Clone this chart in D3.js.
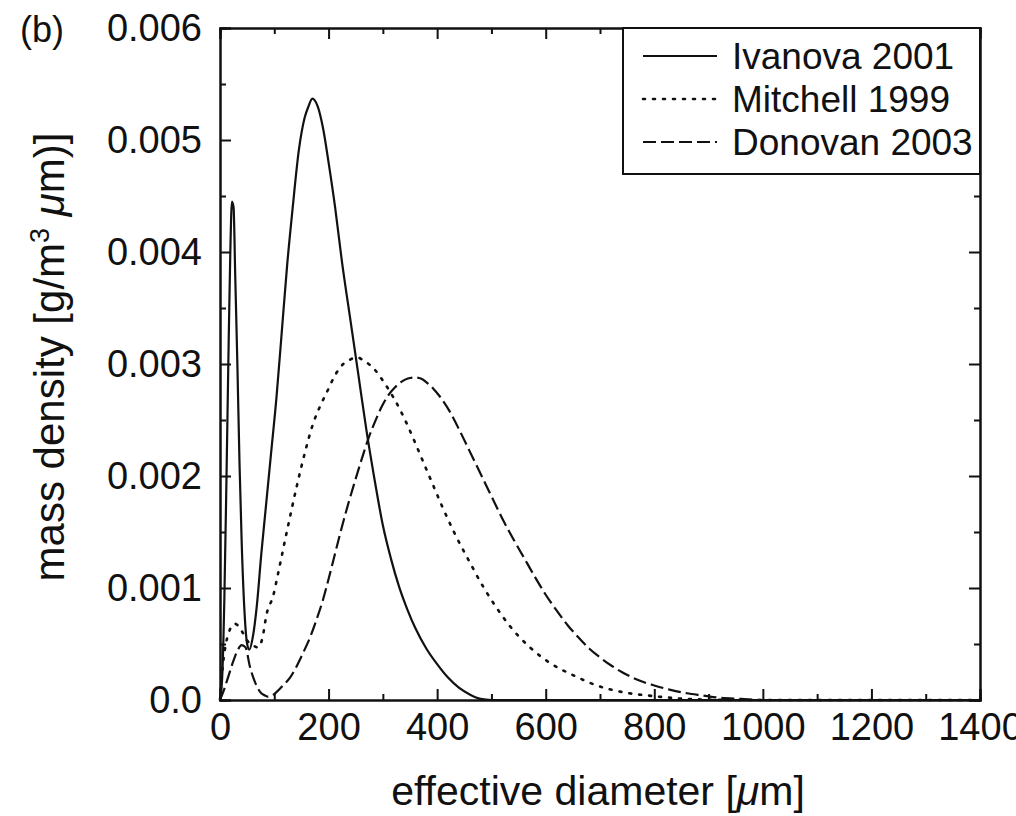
<!DOCTYPE html>
<html>
<head>
<style>
    body { margin: 0; background: #fff; }
    svg { font-family: 'Liberation Sans', Arial, sans-serif; }
    .axis text { font-size: 38px; fill: #111; }
    .axis path, .axis line { stroke: #111; stroke-width: 2; }
</style>
</head>
<body>
<div id="chart"></div>
<script src="https://d3js.org/d3.v7.min.js"></script>
<script>
    // effective diameter [um] / mass density
    const ivanovaX = [0, 4, 8, 12, 16, 19, 22, 25, 28, 32, 36, 40, 45, 50, 54, 60, 68, 76, 84, 94, 104, 114, 124, 134, 145, 156, 163, 170, 180, 190, 200, 212, 225, 240, 255, 270, 285, 300, 315, 330, 345, 360, 380, 400, 420, 440, 460, 480, 500, 1400];
    const ivanovaY = [0, 0.0002, 0.0009, 0.002, 0.0032, 0.004, 0.00445, 0.0044, 0.0038, 0.003, 0.0021, 0.0014, 0.0008, 0.0005, 0.00045, 0.00055, 0.00085, 0.0013, 0.0017, 0.0022, 0.0027, 0.0033, 0.0039, 0.0044, 0.0049, 0.0052, 0.0053, 0.00537, 0.0053, 0.0051, 0.0048, 0.0044, 0.0039, 0.0034, 0.0029, 0.0024, 0.00196, 0.00156, 0.00126, 0.00101, 0.00081, 0.00064, 0.00046, 0.00032, 0.0002, 0.00011, 0.00005, 0.00001, 0, 0];

    const mitchellX = [0, 5, 10, 16, 22, 28, 34, 42, 50, 60, 70, 78, 86, 98, 107, 123, 141, 157, 171, 185, 197, 212, 227, 240, 252, 265, 285, 303, 322, 338, 353, 367, 381, 395, 410, 430, 460, 485, 510, 534, 571, 608, 651, 694, 742, 798, 860, 950, 1400];
    const mitchellY = [0, 0.0003, 0.00048, 0.0006, 0.00066, 0.00068, 0.00066, 0.0006, 0.00053, 0.00049, 0.00047, 0.00055, 0.00077, 0.00093, 0.00113, 0.0015, 0.0019, 0.00222, 0.00246, 0.00263, 0.00275, 0.0029, 0.003, 0.00304, 0.00306, 0.00303, 0.00295, 0.00283, 0.00268, 0.00253, 0.00237, 0.00221, 0.00205, 0.00189, 0.00172, 0.00151, 0.00123, 0.00101, 0.00082, 0.00066, 0.00047, 0.00033, 0.00022, 0.00013, 0.00007, 0.000035, 0.00001, 0, 0];

    const donovanX = [0, 8, 16, 24, 32, 40, 47, 55, 62, 68, 76, 83, 88, 96, 104, 116, 129, 141, 153, 166, 178, 190, 200, 210, 221, 235, 249, 261, 273, 286, 298, 310, 322, 334, 346, 358, 370, 382, 393, 405, 424, 442, 460, 480, 500, 520, 540, 560, 580, 600, 620, 640, 660, 680, 700, 720, 740, 760, 780, 800, 830, 860, 890, 920, 960, 1000, 1400];
    const donovanY = [0, 0.0001, 0.00022, 0.00034, 0.00044, 0.00049, 0.00047, 0.0003, 0.00019, 0.00012, 0.00006, 0.00004, 0.00003, 0.00004, 0.00007, 0.00013, 0.0002, 0.0003, 0.00042, 0.00056, 0.00072, 0.0009, 0.00108, 0.00127, 0.00148, 0.00173, 0.00196, 0.00215, 0.00233, 0.00249, 0.00262, 0.00272, 0.00279, 0.00284, 0.00287, 0.00288, 0.00287, 0.00283, 0.00278, 0.00271, 0.00257, 0.0024, 0.00222, 0.00202, 0.00182, 0.00162, 0.00144, 0.00127, 0.0011, 0.00094, 0.0008, 0.00067, 0.00056, 0.00046, 0.00038, 0.00031, 0.00025, 0.0002, 0.00016, 0.00013, 0.00009, 0.00006, 0.00004, 0.00002, 0.00001, 0, 0];

    const seriesNames = ['Ivanova 2001', 'Mitchell 1999', 'Donovan 2003'];
    const xTicks = [0, 200, 400, 600, 800, 1000, 1200, 1400];
    const yTicks = [0, 0.001, 0.002, 0.003, 0.004, 0.005, 0.006];
    const yTickLabels = ['0.0', '0.001', '0.002', '0.003', '0.004', '0.005', '0.006'];

    const W = 1016, H = 816;
    const m = { left: 220, top: 28, right: 36, bottom: 116 };
    const w = W - m.left - m.right, h = H - m.top - m.bottom;

    const svg = d3.select('#chart').append('svg')
        .attr('width', W).attr('height', H);
    const g = svg.append('g').attr('transform', `translate(${m.left},${m.top})`);

    const x = d3.scaleLinear().domain([0, 1400]).range([0, w]);
    const y = d3.scaleLinear().domain([0, 0.006]).range([h, 0]);

    const xMinor = d3.range(100, 1400, 200);
    const yMinor = d3.range(0.0005, 0.006, 0.001);

    // axes, ticks pointing inward on all four sides
    g.append('g').attr('class', 'axis').attr('transform', `translate(0,${h})`)
        .call(d3.axisBottom(x).tickValues(xTicks).tickSize(-11).tickPadding(13).tickFormat(d3.format('d')));
    g.append('g').attr('class', 'axis').attr('transform', `translate(0,${h})`)
        .call(d3.axisBottom(x).tickValues(xMinor).tickSize(-6).tickFormat(''));
    g.append('g').attr('class', 'axis')
        .call(d3.axisTop(x).tickValues(xTicks).tickSize(-11).tickFormat(''));
    g.append('g').attr('class', 'axis')
        .call(d3.axisTop(x).tickValues(xMinor).tickSize(-6).tickFormat(''));

    g.append('g').attr('class', 'axis')
        .call(d3.axisLeft(y).tickValues(yTicks).tickSize(-11).tickPadding(18).tickFormat((d, i) => yTickLabels[i]));
    g.append('g').attr('class', 'axis')
        .call(d3.axisLeft(y).tickValues(yMinor).tickSize(-6).tickFormat(''));
    g.append('g').attr('class', 'axis').attr('transform', `translate(${w},0)`)
        .call(d3.axisRight(y).tickValues(yTicks).tickSize(-11).tickFormat(''));
    g.append('g').attr('class', 'axis').attr('transform', `translate(${w},0)`)
        .call(d3.axisRight(y).tickValues(yMinor).tickSize(-6).tickFormat(''));

    // curves
    const line = d3.line().x(d => x(d[0])).y(d => y(d[1])).curve(d3.curveMonotoneX);
    const styles = [
        { dash: null, width: 2.2 },
        { dash: '2,8', width: 2.6 },
        { dash: '13,5', width: 2.2 }
    ];
    const series = [
        d3.zip(ivanovaX, ivanovaY),
        d3.zip(mitchellX, mitchellY),
        d3.zip(donovanX, donovanY)
    ];
    series.forEach((s, i) => {
        g.append('path').datum(s)
            .attr('d', line)
            .attr('fill', 'none')
            .attr('stroke', '#111')
            .attr('stroke-width', styles[i].width)
            .attr('stroke-dasharray', styles[i].dash)
            .attr('stroke-linecap', i === 1 ? 'round' : 'butt');
    });

    // legend box in the top right corner
    const lg = g.append('g').attr('transform', `translate(${w - 357},0)`);
    lg.append('rect').attr('width', 357).attr('height', 146)
        .attr('fill', '#fff').attr('stroke', '#111').attr('stroke-width', 2);
    seriesNames.forEach((name, i) => {
        const yy = 28 + i * 43;
        lg.append('line').attr('x1', 20).attr('x2', 94).attr('y1', yy).attr('y2', yy)
            .attr('stroke', '#111').attr('stroke-width', styles[i].width)
            .attr('stroke-dasharray', styles[i].dash)
            .attr('stroke-linecap', i === 1 ? 'round' : 'butt');
        lg.append('text').attr('x', 109).attr('y', yy + 13)
            .style('font-size', '37px').style('fill', '#111').text(name);
    });

    // titles
    svg.append('text').attr('x', 598).attr('y', 805)
        .attr('text-anchor', 'middle').style('font-size', '41px').style('fill', '#111')
        .html('effective diameter [<tspan font-style="italic">μ</tspan>m]');
    svg.append('text').attr('transform', 'translate(64,357) rotate(-90)')
        .attr('text-anchor', 'middle').style('font-size', '42px').style('fill', '#111')
        .html('mass density [g/m<tspan baseline-shift="super" font-size="27px">3</tspan> <tspan font-style="italic">μ</tspan>m)]');
    svg.append('text').attr('x', 20).attr('y', 42)
        .style('font-size', '36px').style('fill', '#111').text('(b)');
</script>
</body>
</html>
